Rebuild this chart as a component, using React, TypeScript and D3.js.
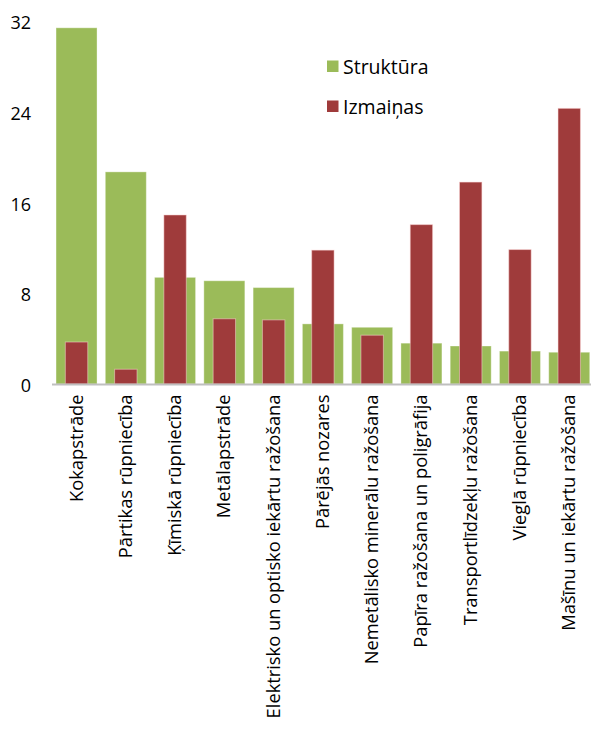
import React from "react";
import * as d3 from "d3";

const categories = [
  "Kokapstrāde",
  "Pārtikas rūpniecība",
  "Ķīmiskā rūpniecība",
  "Metālapstrāde",
  "Elektrisko un optisko iekārtu ražošana",
  "Pārējās nozares",
  "Nemetālisko minerālu ražošana",
  "Papīra ražošana un poligrāfija",
  "Transportlīdzekļu ražošana",
  "Vieglā rūpniecība",
  "Mašīnu un iekārtu ražošana",
];
const struktura = [31.4, 18.7, 9.4, 9.1, 8.5, 5.3, 5.0, 3.6, 3.35, 2.9, 2.8];
const izmainas = [3.7, 1.3, 14.9, 5.75, 5.65, 11.8, 4.3, 14.05, 17.8, 11.85, 24.3];
const yTicks = [0, 8, 16, 24, 32];
const seriesNames = ["Struktūra", "Izmaiņas"];

const GREEN = "#9BBB59";
const RED = "#9F3B3B";
const FONT = "'Open Sans', sans-serif";

export default function App() {
  const W = 591;
  const H = 740;
  const x0 = 51.9;
  const band = 49.27;
  const x = d3
    .scaleBand<string>()
    .domain(categories)
    .range([x0, x0 + band * categories.length])
    .paddingInner(0.168)
    .paddingOuter(0.084);
  const y = d3.scaleLinear().domain([0, 32]).range([384, 21]);
  const gw = x.bandwidth();
  const rw = 22.4;

  return (
    <svg
      width={W}
      height={H}
      style={{ position: "absolute", left: 0, top: 0, background: "#fff" }}
      fontFamily={FONT}
    >
      <rect x={0} y={0} width={W} height={H} fill="#fff" />
      {categories.map((c, i) => {
        const cx = (x(c) as number) + gw / 2;
        return (
          <g key={c}>
            <rect
              x={cx - gw / 2}
              y={y(struktura[i])}
              width={gw}
              height={y(0) - y(struktura[i])}
              fill={GREEN}
              stroke="rgba(255,255,255,0.35)"
              strokeWidth={1}
            />
            <rect
              x={cx - rw / 2}
              y={y(izmainas[i])}
              width={rw}
              height={y(0) - y(izmainas[i])}
              fill={RED}
              stroke="rgba(255,220,220,0.5)"
              strokeWidth={1}
            />
            <text
              transform={`translate(${cx + 6},394.5) rotate(-90)`}
              textAnchor="end"
              fontSize={18.3}
              fill="#000"
            >
              {c}
            </text>
          </g>
        );
      })}
      <line x1={52} x2={W} y1={384.5} y2={384.5} stroke="#BFBFBF" strokeWidth={2} />
      {yTicks.map((t) => (
        <text
          key={t}
          x={31}
          y={y(t) + 1}
          textAnchor="end"
          dominantBaseline="central"
          fontSize={18}
          fill="#000"
        >
          {t}
        </text>
      ))}
      {seriesNames.map((s, i) => (
        <g key={s} transform={`translate(327,${60.5 + i * 40})`}>
          <rect x={0} y={0} width={11.5} height={11.5} fill={i === 0 ? GREEN : RED} />
          <text x={16} y={6} dominantBaseline="central" fontSize={19.5} fill="#000">
            {s}
          </text>
        </g>
      ))}
    </svg>
  );
}
